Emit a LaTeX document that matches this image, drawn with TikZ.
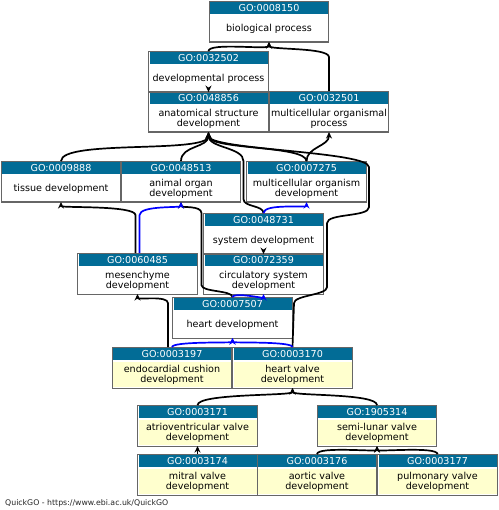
\documentclass[tikz,border=0pt]{standalone}
\usepackage{fontspec}
\setmainfont{DejaVu Sans}
\usepackage{tikz}
\usetikzlibrary{arrows.meta,positioning}
\definecolor{gohead}{RGB}{2,108,150}
\definecolor{goleaf}{RGB}{255,255,206}
\definecolor{partblue}{RGB}{0,0,255}
\tikzset{every picture/.style={line width=1.7pt}}

\begin{document}
\begin{tikzpicture}[x=1pt,y=-1pt,>={Stealth[length=6.5pt,width=6pt]},
 every node/.style={font=\fontsize{9.6}{10}\selectfont},
 termhead/.style={fill=gohead,text=white,minimum width=118pt,minimum height=12pt,inner sep=0pt},
 termbody/.style={fill=white,minimum width=118pt,minimum height=25.5pt,inner sep=0pt,align=center},
 leafbody/.style={termbody,fill=goleaf},
 termframe/.style={draw=black!60,line width=1.1pt},
 isa/.style={->,black},
 partof/.style={->,partblue}]
 \useasboundingbox (0,0) rectangle (498,510);

 % upper terms
 \node[termhead] (h-bp) at (269,8) {GO:0008150};
 \node[termbody,below=0pt of h-bp] (bp) {biological process};
 \node[termhead] (h-dp) at (208.5,58) {GO:0032502};
 \node[termbody,below=0pt of h-dp] (dp) {developmental process};
 \node[termhead] (h-asd) at (208.5,98) {GO:0048856};
 \node[termbody,below=0pt of h-asd] (asd) {anatomical structure\\development};
 \node[termhead] (h-mop) at (329,98) {GO:0032501};
 \node[termbody,below=0pt of h-mop] (mop) {multicellular organismal\\process};

 % middle terms
 \node[termhead] (h-td) at (61,168) {GO:0009888};
 \node[termbody,below=0pt of h-td] (td) {tissue development};
 \node[termhead] (h-aod) at (181,168) {GO:0048513};
 \node[termbody,below=0pt of h-aod] (aod) {animal organ\\development};
 \node[termhead] (h-mod) at (306.5,168) {GO:0007275};
 \node[termbody,below=0pt of h-mod] (mod) {multicellular organism\\development};
 \node[termhead] (h-sd) at (263.5,220) {GO:0048731};
 \node[termbody,below=0pt of h-sd] (sd) {system development};
 \node[termhead] (h-csd) at (263.5,260) {GO:0072359};
 \node[termbody,below=0pt of h-csd] (csd) {circulatory system\\development};
 \node[termhead] (h-md) at (137.5,260) {GO:0060485};
 \node[termbody,below=0pt of h-md] (md) {mesenchyme\\development};
 \node[termhead] (h-hd) at (232.5,304) {GO:0007507};
 \node[termbody,below=0pt of h-hd] (hd) {heart development};

 % the selected (yellow) terms
 \node[termhead] (h-ecd) at (172,354) {GO:0003197};
 \node[leafbody,below=0pt of h-ecd] (ecd) {endocardial cushion\\development};
 \node[termhead] (h-hvd) at (292.5,354) {GO:0003170};
 \node[leafbody,below=0pt of h-hvd] (hvd) {heart valve\\development};
 \node[termhead] (h-avd) at (197.5,412) {GO:0003171};
 \node[leafbody,below=0pt of h-avd] (avd) {atrioventricular valve\\development};
 \node[termhead] (h-slvd) at (377,412) {GO:1905314};
 \node[leafbody,below=0pt of h-slvd] (slvd) {semi-lunar valve\\development};
 \node[termhead] (h-mvd) at (197.5,461) {GO:0003174};
 \node[leafbody,below=0pt of h-mvd] (mvd) {mitral valve\\development};
 \node[termhead] (h-aovd) at (317,461) {GO:0003176};
 \node[leafbody,below=0pt of h-aovd] (aovd) {aortic valve\\development};
 \node[termhead] (h-pvd) at (437.5,461) {GO:0003177};
 \node[leafbody,below=0pt of h-pvd] (pvd) {pulmonary valve\\development};

 \foreach \t in {bp,dp,asd,mop,td,aod,mod,sd,csd,md,hd,ecd,hvd,avd,slvd,mvd,aovd,pvd}
  \draw[termframe] (h-\t.north west) rectangle (\t.south east);

 % is_a
 \draw[isa] (h-dp.north) .. controls +(0,-9) and +(0,8) .. (bp.south);
 \draw[isa] (h-mop.north) -- ++(0,-34) .. controls +(0,-10) and +(0,8) .. (bp.south);
 \draw[isa] (h-asd.north) -- (dp.south);
 \draw[isa] (h-td.north) .. controls +(0,-22) and +(0,22) .. (asd.south);
 \draw[isa] (h-aod.north) .. controls +(0,-16) and +(0,16) .. (asd.south);
 \draw[isa] (h-mod.north) .. controls +(0,-16) and +(0,18) .. (asd.south);
 \draw[isa] (h-sd.north) .. controls +(0,-8) and +(0,8) .. ++(-20,-14)
  -- ++(0,-38) .. controls +(0,-14) and +(0,16) .. (asd.south);
 \draw[isa] (h-hvd.north) -- ++(1.5,-44) .. controls +(0,-8) and +(0,8) .. ++(33,-16)
  -- ++(0,-64) .. controls +(0,-10) and +(0,10) .. ++(42,-16)
  -- ++(0,-40) .. controls +(0,-16) and +(0,18) .. (asd.south);
 \draw[isa] (h-mod.north) .. controls +(0,-14) and +(0,14) .. (mop.south);
 \draw[isa] ([xshift=-2pt]h-md.north) -- ++(0,-38) .. controls +(0,-10) and +(0,6) .. (td.south);
 \draw[isa] (h-csd.north) -- (sd.south);
 \draw[isa] (h-hd.north) .. controls +(0,-7) and +(0,7) .. ++(-31,-12)
  -- ++(0,-72) .. controls +(0,-8) and +(0,6) .. (aod.south);
 \draw[isa] ([xshift=-4pt]h-ecd.north) -- ++(0,-44) .. controls +(0,-8) and +(0,6) .. (md.south);
 \draw[isa] (h-avd.north) .. controls +(0,-12) and +(0,8) .. (hvd.south);
 \draw[isa] (h-slvd.north) .. controls +(0,-12) and +(0,8) .. (hvd.south);
 \draw[isa] (h-mvd.north) -- (avd.south);
 \draw[isa] (h-aovd.north) .. controls +(0,-8) and +(0,6) .. (slvd.south);
 \draw[isa] (h-pvd.north) .. controls +(0,-8) and +(0,6) .. (slvd.south);

 % part_of
 \draw[partof] (h-sd.north) .. controls +(0,-10) and +(0,6) .. (mod.south);
 \draw[partof] ([xshift=2pt]h-md.north) -- ++(0,-38) .. controls +(0,-10) and +(0,6) .. (aod.south);
 \draw[partof] (h-hd.north) .. controls +(0,-5) and +(0,4) .. (csd.south);
 \draw[partof] (h-ecd.north) .. controls +(0,-6) and +(0,5) .. (hd.south);
 \draw[partof] (h-hvd.north) .. controls +(0,-6) and +(0,5) .. (hd.south);

 \node[anchor=west,font=\fontsize{7.8}{9}\selectfont,text=black!85] (credit) at (1,503)
  {QuickGO - https://www.ebi.ac.uk/QuickGO};
\end{tikzpicture}
\end{document}
